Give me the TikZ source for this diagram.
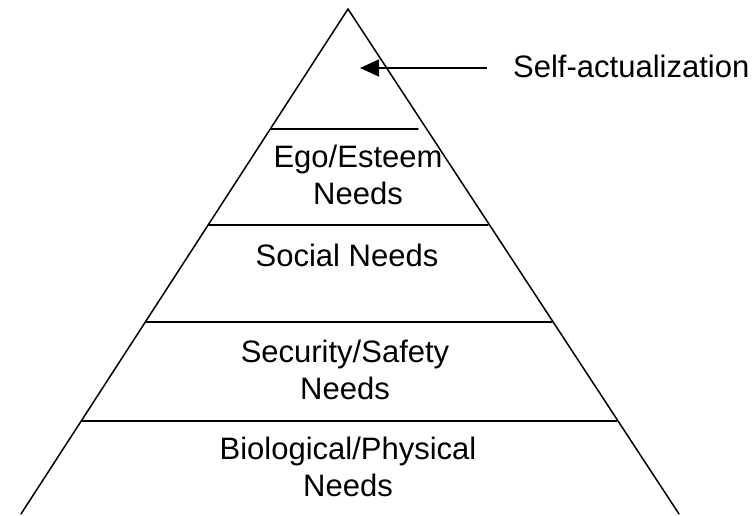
\documentclass[tikz,border=0pt]{standalone}
\usepackage{fontspec}
\setmainfont{Liberation Sans}
\usetikzlibrary{arrows.meta}
\begin{document}
\begin{tikzpicture}[x=1pt,y=-1pt,
  edge/.style={line width=1.5pt,line cap=round},
  level/.style={align=center,inner sep=0pt,font=\fontsize{31}{37}\selectfont},
  pointer/.style={line width=1.6pt,-{Triangle[length=19pt,width=17pt]}}]
\useasboundingbox (0,0) rectangle (756,516);
% outline of the pyramid (open at the base)
\coordinate (apex) at (348,9);
\coordinate (bl) at (21,514);
\coordinate (br) at (679,514);
\draw[edge] (bl) -- (apex) -- (br);
% level dividers
\draw[edge] (271,129) -- (418,129);
\draw[edge] (209,225) -- (488,225);
\draw[edge] (146,322) -- (552,322);
\draw[edge] (82,421) -- (617,421);
% level labels
\node[level] (ego) at (358,175) {Ego/Esteem\\Needs};
\node[level] (social) at (347,255) {Social Needs};
\node[level] (safety) at (345,370) {Security/Safety\\Needs};
\node[level] (bio) at (348,467) {Biological/Physical\\Needs};
% label for the top level
\node[level,anchor=west] (self) at (513,66) {Self-actualization};
\coordinate (tail) at (487,68);
\coordinate (tip) at (360,68);
\draw[pointer] (tail) -- (tip);
\end{tikzpicture}
\end{document}
